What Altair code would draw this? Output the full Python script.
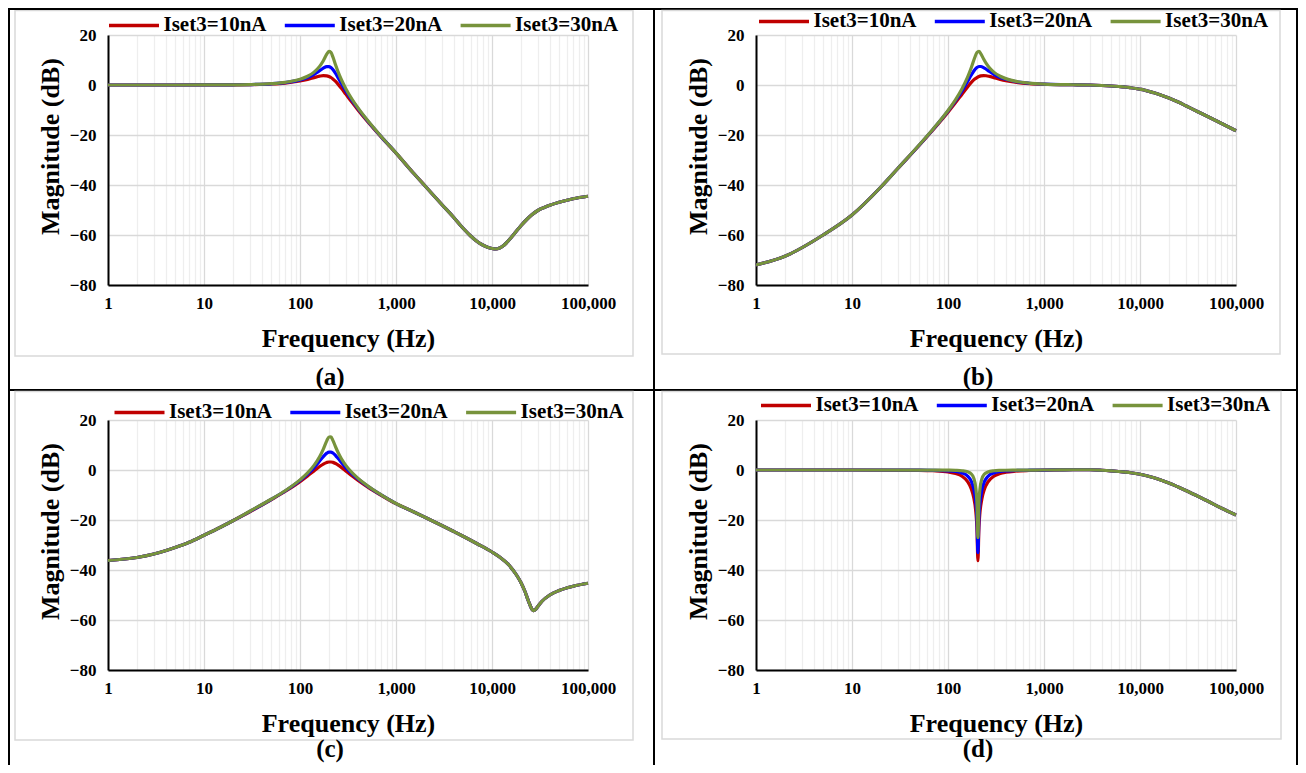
import altair as alt
import pandas as pd

FONT = "Liberation Serif"
W, H = 480, 250

series = ["Iset3=10nA", "Iset3=20nA", "Iset3=30nA"]
colors = ["#C00000", "#0000FF", "#77933C"]
captions = ["(a)", "(b)", "(c)", "(d)"]
x_major = [1, 10, 100, 1000, 10000, 100000]
x_minor = [2, 3, 4, 5, 6, 7, 8, 9,
           20, 30, 40, 50, 60, 70, 80, 90,
           200, 300, 400, 500, 600, 700, 800, 900,
           2000, 3000, 4000, 5000, 6000, 7000, 8000, 9000,
           20000, 30000, 40000, 50000, 60000, 70000, 80000, 90000]
y_ticks = [-80, -60, -40, -20, 0, 20]

# ---- panel (a) ----
freq_a = [1, 2, 5, 10, 20, 30, 50, 70, 100, 120, 140, 160, 175, 190, 200, 210, 220, 235,
          250, 270, 300, 350, 400, 500, 700, 1000, 1500, 2000, 3000, 4000, 5000, 6000, 7000,
          8000, 9000, 10000, 11000, 12000, 13000, 14000, 16000, 18000, 20000, 23000, 26000,
          30000, 35000, 40000, 50000, 70000, 100000]
a_10 = [0.0, 0.0, 0.0, 0.02, 0.06, 0.14, 0.40, 0.78, 1.59, 2.25, 2.95, 3.54, 3.77, 3.68, 3.42,
        3.00, 2.44, 1.41, 0.25, -1.35, -3.66, -7.04, -9.86, -14.37, -20.76, -27.24, -35.0,
        -40.3, -47.8, -53.0, -57.3, -60.4, -62.6, -64.0, -64.9, -65.4, -65.6, -65.2, -64.4,
        -63.3, -60.8, -58.4, -56.3, -53.8, -51.9, -50.2, -49.0, -48.1, -46.9, -45.5, -44.5]
a_20 = [0.0, 0.0, 0.0, 0.02, 0.08, 0.17, 0.48, 0.96, 2.04, 3.04, 4.28, 5.72, 6.75, 7.39, 7.39,
        6.97, 6.19, 4.60, 2.85, 0.62, -2.33, -6.25, -9.35, -14.09, -20.64, -27.19, -35.0,
        -40.3, -47.8, -53.0, -57.3, -60.4, -62.6, -64.0, -64.9, -65.4, -65.6, -65.2, -64.4,
        -63.3, -60.8, -58.4, -56.3, -53.8, -51.9, -50.2, -49.0, -48.1, -46.9, -45.5, -44.5]
a_30 = [0.0, 0.0, 0.0, 0.02, 0.08, 0.18, 0.52, 1.05, 2.28, 3.49, 5.15, 7.44, 9.72, 12.31, 13.43,
        13.02, 11.24, 8.01, 5.16, 2.09, -1.46, -5.80, -9.06, -13.94, -20.58, -27.16, -35.0,
        -40.3, -47.8, -53.0, -57.3, -60.4, -62.6, -64.0, -64.9, -65.4, -65.6, -65.2, -64.4,
        -63.3, -60.8, -58.4, -56.3, -53.8, -51.9, -50.2, -49.0, -48.1, -46.9, -45.5, -44.5]

# ---- panel (b) ----
freq_b = [1, 2, 5, 10, 20, 30, 50, 70, 100, 120, 140, 160, 175, 190, 200, 210, 220, 235,
          250, 270, 300, 350, 400, 500, 700, 1000, 1500, 2000, 3000, 4000, 5000, 6000, 7000,
          8000, 9000, 10000, 11000, 12000, 14000, 17000, 20000, 25000, 30000, 40000, 50000,
          70000, 100000]
b_10 = [-72.0, -68.5, -60.0, -52.0, -40.8, -33.4, -24.2, -17.9, -10.9, -7.05, -3.67, -0.77,
        1.02, 2.36, 2.99, 3.42, 3.66, 3.78, 3.70, 3.43, 2.96, 2.26, 1.75, 1.12, 0.57, 0.29,
        0.15, 0.1, 0.0, -0.2, -0.4, -0.6, -0.8, -1.1, -1.4, -1.7, -2.0, -2.4, -3.1, -4.2,
        -5.2, -6.8, -8.3, -10.7, -12.5, -15.3, -18.3]
b_20 = [-72.0, -68.5, -60.0, -52.0, -40.8, -33.4, -24.1, -17.7, -10.4, -6.27, -2.34, 1.41,
        4.00, 6.07, 6.97, 7.39, 7.41, 6.97, 6.30, 5.40, 4.29, 3.04, 2.27, 1.40, 0.70, 0.33,
        0.15, 0.1, 0.0, -0.2, -0.4, -0.6, -0.8, -1.1, -1.4, -1.7, -2.0, -2.4, -3.1, -4.2,
        -5.2, -6.8, -8.3, -10.7, -12.5, -15.3, -18.3]
b_30 = [-72.0, -68.5, -60.0, -52.0, -40.8, -33.4, -24.0, -17.6, -10.2, -5.81, -1.48, 3.13,
        6.97, 10.99, 13.00, 13.44, 12.47, 10.38, 8.61, 6.87, 5.15, 3.50, 2.55, 1.55, 0.76, 0.35,
        0.15, 0.1, 0.0, -0.2, -0.4, -0.6, -0.8, -1.1, -1.4, -1.7, -2.0, -2.4, -3.1, -4.2,
        -5.2, -6.8, -8.3, -10.7, -12.5, -15.3, -18.3]

# ---- panel (c) ----
freq_c = [1, 2, 3, 5, 7, 10, 15, 20, 30, 50, 70, 100, 120, 140, 160, 175, 190, 200, 210, 220,
          235, 250, 270, 300, 350, 400, 500, 700, 1000, 1500, 2000, 3000, 4000, 5000, 7000,
          10000, 12000, 15000, 18000, 20000, 22000, 24000, 26000, 27000, 28000, 30000, 33000,
          40000, 50000, 70000, 100000]
c_10 = [-36.2, -35.0, -33.6, -31.0, -28.9, -26.1, -22.8, -20.3, -16.7, -11.9, -8.6,
        -4.65, -2.40, -0.36, 1.39, 2.39, 3.02, 3.21, 3.21, 3.05, 2.59, 1.97, 1.04, -0.35,
        -2.39, -4.06, -6.62, -10.10, -13.48,
        -16.6, -18.9, -22.2, -24.6, -26.5, -29.5, -32.8, -34.8, -38.0, -42.0, -45.0, -48.5,
        -52.5, -55.6, -56.3, -56.0, -54.6, -52.6, -50.0, -48.2, -46.5, -45.3]
c_20 = [-36.2, -35.0, -33.6, -31.0, -28.9, -26.1, -22.8, -20.3, -16.6, -11.8, -8.4,
        -4.20, -1.61, 0.97, 3.57, 5.38, 6.73, 7.18, 7.18, 6.80, 5.78, 4.58, 3.01, 0.98,
        -1.60, -3.54, -6.34, -9.97, -13.42,
        -16.6, -18.9, -22.2, -24.6, -26.5, -29.5, -32.8, -34.8, -38.0, -42.0, -45.0, -48.5,
        -52.5, -55.6, -56.3, -56.0, -54.6, -52.6, -50.0, -48.2, -46.5, -45.3]
c_30 = [-36.2, -35.0, -33.6, -31.0, -28.9, -26.1, -22.8, -20.3, -16.5, -11.7, -8.3,
        -3.95, -1.16, 1.83, 5.29, 8.35, 11.65, 13.21, 13.23, 11.86, 9.20, 6.89, 4.48, 1.85,
        -1.15, -3.25, -6.19, -9.91, -13.39,
        -16.6, -18.9, -22.2, -24.6, -26.5, -29.5, -32.8, -34.8, -38.0, -42.0, -45.0, -48.5,
        -52.5, -55.6, -56.3, -56.0, -54.6, -52.6, -50.0, -48.2, -46.5, -45.3]

# ---- panel (d) ----
freq_d = [1, 10, 50, 70, 100, 120, 140, 160, 175, 185, 195, 200, 205, 210, 215, 225, 240, 260,
          300, 350, 400, 500, 700, 1000, 1500, 2000, 3000, 4000, 5000, 6000, 7000, 8000, 10000,
          12000, 14000, 17000, 20000, 25000, 30000, 40000, 50000, 70000, 100000]
d_10 = [0.0, 0.0, -0.14, -0.30, -0.77, -1.39, -2.50, -4.62, -7.57, -10.88, -16.86, -22.92,
        -36.3, -23.13, -17.27, -11.67, -7.58, -4.87, -2.51, -1.39, -0.90, -0.48, -0.21, -0.08,
        0.05, 0.1, 0.1, -0.1, -0.35, -0.6, -0.85, -1.1, -1.7, -2.4, -3.1, -4.2, -5.2, -6.8,
        -8.2, -10.5, -12.3, -15.2, -18.0]
d_20 = [0.0, 0.0, -0.06, -0.12, -0.32, -0.61, -1.17, -2.44, -4.58, -7.38, -12.98, -18.95,
        -33.0, -19.16, -13.39, -8.09, -4.59, -2.60, -1.18, -0.61, -0.38, -0.20, -0.08, -0.03,
        0.05, 0.1, 0.1, -0.1, -0.35, -0.6, -0.85, -1.1, -1.7, -2.4, -3.1, -4.2, -5.2, -6.8,
        -8.2, -10.5, -12.3, -15.2, -18.0]
d_30 = [0.0, 0.0, -0.01, -0.03, -0.08, -0.15, -0.31, -0.72, -1.61, -3.16, -7.42, -12.91,
        -27.0, -13.11, -7.77, -3.62, -1.61, -0.78, -0.31, -0.15, -0.09, -0.05, -0.02, 0.0,
        0.05, 0.1, 0.1, -0.1, -0.35, -0.6, -0.85, -1.1, -1.7, -2.4, -3.1, -4.2, -5.2, -6.8,
        -8.2, -10.5, -12.3, -15.2, -18.0]

MAJOR_TEST = "indexof([1, 10, 100, 1000, 10000, 100000], datum.value) >= 0"


def make_df(freq, v10, v20, v30):
    rows = []
    for name, vals in zip(series, [v10, v20, v30]):
        for f, v in zip(freq, vals):
            rows.append({"f": f, "dB": v, "s": name})
    return pd.DataFrame(rows)


def one():
    return alt.Chart(alt.Data(values=[{"k": 0}]))


def panel(freq, v10, v20, v30, caption, cap_xy, legend_xy, frame, extra=()):
    df = make_df(freq, v10, v20, v30)
    x = alt.X("f:Q",
              scale=alt.Scale(type="log", domain=[1, 100000], nice=False),
              axis=alt.Axis(values=x_minor + x_major,
                            labelExpr=MAJOR_TEST + " ? format(datum.value, ',') : ''",
                            gridColor={"condition": {"test": MAJOR_TEST, "value": "#d9d9d9"},
                                       "value": "#eeeeee"},
                            title="Frequency (Hz)", titleY=53, titleBaseline="middle"))
    y = alt.Y("dB:Q",
              scale=alt.Scale(domain=[-80, 20], nice=False),
              axis=alt.Axis(values=y_ticks, title="Magnitude (dB)", titleX=-58, titleY=111,
                            titleAngle=270, titleAlign="center", titleBaseline="middle"))
    color = alt.Color("s:N", scale=alt.Scale(domain=series, range=colors),
                      legend=alt.Legend(orient="none", legendX=legend_xy[0], legendY=legend_xy[1],
                                        direction="horizontal", title=None,
                                        symbolType="M-2.381,0H2.381", symbolSize=441,
                                        symbolStrokeWidth=3.5, labelFont=FONT, labelFontSize=21,
                                        labelFontWeight="bold", labelColor="black",
                                        labelOffset=17, columnPadding=10.8, padding=0,
                                        labelLimit=0))
    lines = alt.Chart(df).mark_line(strokeWidth=3.2, interpolate="monotone").encode(
        x=x, y=y, color=color)
    box = one().mark_rect(fillOpacity=0, stroke="#d9d9d9", strokeWidth=1.5).encode(
        x=alt.value(frame[0]), x2=alt.value(frame[2]),
        y=alt.value(frame[1]), y2=alt.value(frame[3]))
    cap = one().mark_text(text=caption, font=FONT, fontSize=25, fontWeight="bold",
                          color="black", baseline="middle", align="center").encode(
        x=alt.value(cap_xy[0]), y=alt.value(cap_xy[1]))
    return alt.layer(box, *extra, cap, lines).properties(width=W, height=H)


def vrule(xv, y1, y2):
    return one().mark_rule(color="black", strokeWidth=2).encode(
        x=alt.value(xv), y=alt.value(y1), y2=alt.value(y2))


def hrule(yv, x1, x2):
    return one().mark_rule(color="black", strokeWidth=2).encode(
        y=alt.value(yv), x=alt.value(x1), x2=alt.value(x2))


table = [vrule(-99, -27, 745), vrule(546, -27, 745), vrule(1189, -27, 745),
         hrule(-26, -100, 1190), hrule(355, -100, 1190)]

pa = panel(freq_a, a_10, a_20, a_30, captions[0], (222, 342), (13.5, -22.3),
           (-93, -24.5, 525, 321), extra=table)
pb = panel(freq_b, b_10, b_20, b_30, captions[1], (222, 342), (15.5, -26.3),
           (-94, -24.5, 524, 319))
pc = panel(freq_c, c_10, c_20, c_30, captions[2], (222, 329), (19.0, -20.3),
           (-93, -28.5, 525, 320))
pd_ = panel(freq_d, d_10, d_20, d_30, captions[3], (222, 329), (17.5, -27.3),
            (-94, -28.5, 525, 319))

chart = alt.concat(pa, pb, pc, pd_, columns=2, spacing={"row": 135, "column": 168},
                   bounds="flush").resolve_scale(color="independent").properties(
    autosize=alt.AutoSizeParams(type="none"),
    padding={"left": 100, "top": 27, "right": 1190, "bottom": 730}
).configure(font=FONT).configure_view(strokeWidth=0).configure_axis(
    domainColor="black", domainWidth=2, ticks=False, tickSize=0,
    labelFont=FONT, labelFontSize=17, labelFontWeight="bold", labelColor="black",
    titleFont=FONT, titleFontSize=26, titleFontWeight="bold", titleColor="black",
    gridColor="#d9d9d9", gridWidth=1.3, labelPadding=10
).configure_axisX(labelFlush=False, labelOverlap=False).configure_axisY(labelPadding=12)

chart.save("out.html", embed_options={"renderer": "svg", "actions": False})
